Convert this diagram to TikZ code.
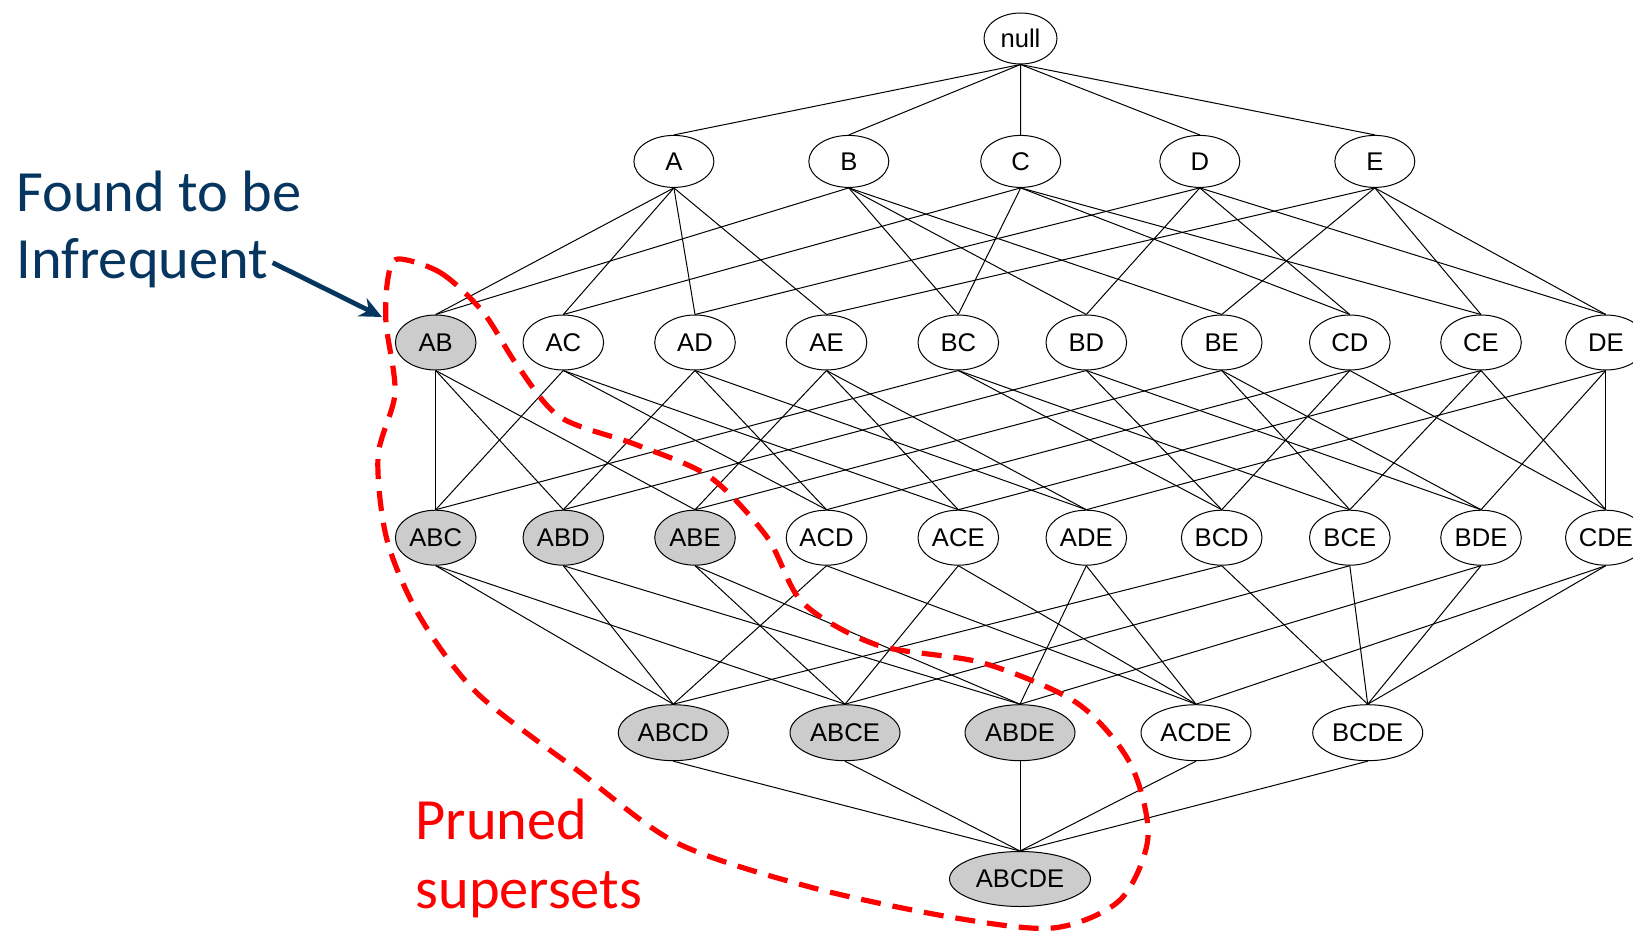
\documentclass[tikz,border=0pt]{standalone}
\usepackage{fontspec}
\usepackage{xcolor}
\usepackage{tikz}
\usetikzlibrary{shapes.geometric,arrows.meta}
\setmainfont{Liberation Sans}
\newfontfamily\calfont{Carlito}
\definecolor{darkblue}{HTML}{06355F}
\definecolor{prunedred}{HTML}{FF0000}
\definecolor{shade}{HTML}{CCCCCC}
\tikzset{
    item/.style={ellipse, draw, line width=0.5pt, inner sep=0pt,
        minimum width=40.3pt, minimum height=27.5pt,
        font=\fontsize{12.8}{15}\selectfont},
    big/.style={minimum width=55pt, minimum height=28pt},
    note/.style={anchor=base west, inner sep=0pt, font=\calfont\fontsize{29.2}{34}\selectfont}
}

\begin{document}
\begin{tikzpicture}[x=0.5pt, y=-0.5pt, line width=0.5pt]
    \useasboundingbox (0,0) rectangle (1633,931);

    % Empty set
    \node[item, minimum width=36.5pt, minimum height=25.5pt] (null) at (1020.5,38.5) {null};

    % Single items
    \foreach \n/\x in {A/673.9, B/848.8, C/1020.7, D/1199.8, E/1374.8} {
        \node[item, minimum width=40pt, minimum height=26pt] (\n) at (\x,161.4) {\n};
        \draw (null.south) -- (\n.north);
    }

    % Pairs
    \foreach \n/\x/\f in {AB/435.7/shade, AC/563.3/white, AD/695/white, AE/826.5/white,
        BC/958.3/white, BD/1086.3/white, BE/1221.7/white, CD/1349.8/white,
        CE/1481/white, DE/1605.8/white} {
        \node[item, fill=\f] (\n) at (\x,342.5) {\n};
    }
    \foreach \n/\subs in {AB/{A,B}, AC/{A,C}, AD/{A,D}, AE/{A,E}, BC/{B,C},
        BD/{B,D}, BE/{B,E}, CD/{C,D}, CE/{C,E}, DE/{D,E}} {
        \foreach \m in \subs {\draw (\m.south) -- (\n.north);}
    }

    % Triples
    \foreach \n/\x/\f in {ABC/435.7/shade, ABD/563.3/shade, ABE/695/shade, ACD/826.5/white,
        ACE/958.3/white, ADE/1086.3/white, BCD/1221.7/white, BCE/1349.8/white,
        BDE/1481/white, CDE/1605.8/white} {
        \node[item, fill=\f] (\n) at (\x,537.7) {\n};
    }
    \foreach \n/\subs in {ABC/{AB,AC,BC}, ABD/{AB,AD,BD}, ABE/{AB,AE,BE},
        ACD/{AC,AD,CD}, ACE/{AC,AE,CE}, ADE/{AD,AE,DE}, BCD/{BC,BD,CD},
        BCE/{BC,BE,CE}, BDE/{BD,BE,DE}, CDE/{CD,CE,DE}} {
        \foreach \m in \subs {\draw (\m.south) -- (\n.north);}
    }

    % Quadruples
    \foreach \n/\x/\f in {ABCD/673.3/shade, ABCE/845/shade, ABDE/1020/shade,
        ACDE/1196/white, BCDE/1367.7/white} {
        \node[item, big, fill=\f] (\n) at (\x,732.7) {\n};
    }
    \foreach \n/\subs in {ABCD/{ABC,ABD,ACD,BCD}, ABCE/{ABC,ABE,ACE,BCE},
        ABDE/{ABD,ABE,ADE,BDE}, ACDE/{ACD,ACE,ADE,CDE}, BCDE/{BCD,BCE,BDE,CDE}} {
        \foreach \m in \subs {\draw (\m.south) -- (\n.north);}
    }

    % Full set
    \node[item, fill=shade, minimum width=70.5pt, minimum height=27.5pt] (ABCDE) at (1020,879) {ABCDE};
    \foreach \m in {ABCD,ABCE,ABDE,ACDE,BCDE} {
        \draw (\m.south) -- (ABCDE.north);
    }

    % Infrequent itemset
    \node[note, text=darkblue] (found) at (16,211) {Found to be};
    \node[note, text=darkblue] (infreq) at (16,278) {Infrequent};
    \coordinate (abtip) at (382,317);
    \draw[darkblue, line width=2.4pt, -{Stealth[length=11pt, width=10pt]}] ([xshift=2pt]infreq.east) -- (abtip);

    % Pruned region
    \draw[prunedred, line width=2.6pt, dash pattern=on 10pt off 6pt] plot[smooth cycle] coordinates {
        (398,259) (441,273) (483,312) (517,365) (560,417) (637,445) (710,477)
        (767,537) (803,603) (877,645) (983,663) (1077,703) (1130,763) (1148,837)
        (1120,900) (1053,928) (950,917) (810,887) (677,843) (577,770) (477,693)
        (420,617) (387,540) (378,457) (395,393) (386,323) (388,278)};
    \node[note, text=prunedred] (pruned) at (415,839) {Pruned};
    \node[note, text=prunedred] (supsets) at (415,908) {supersets};
\end{tikzpicture}
\end{document}
